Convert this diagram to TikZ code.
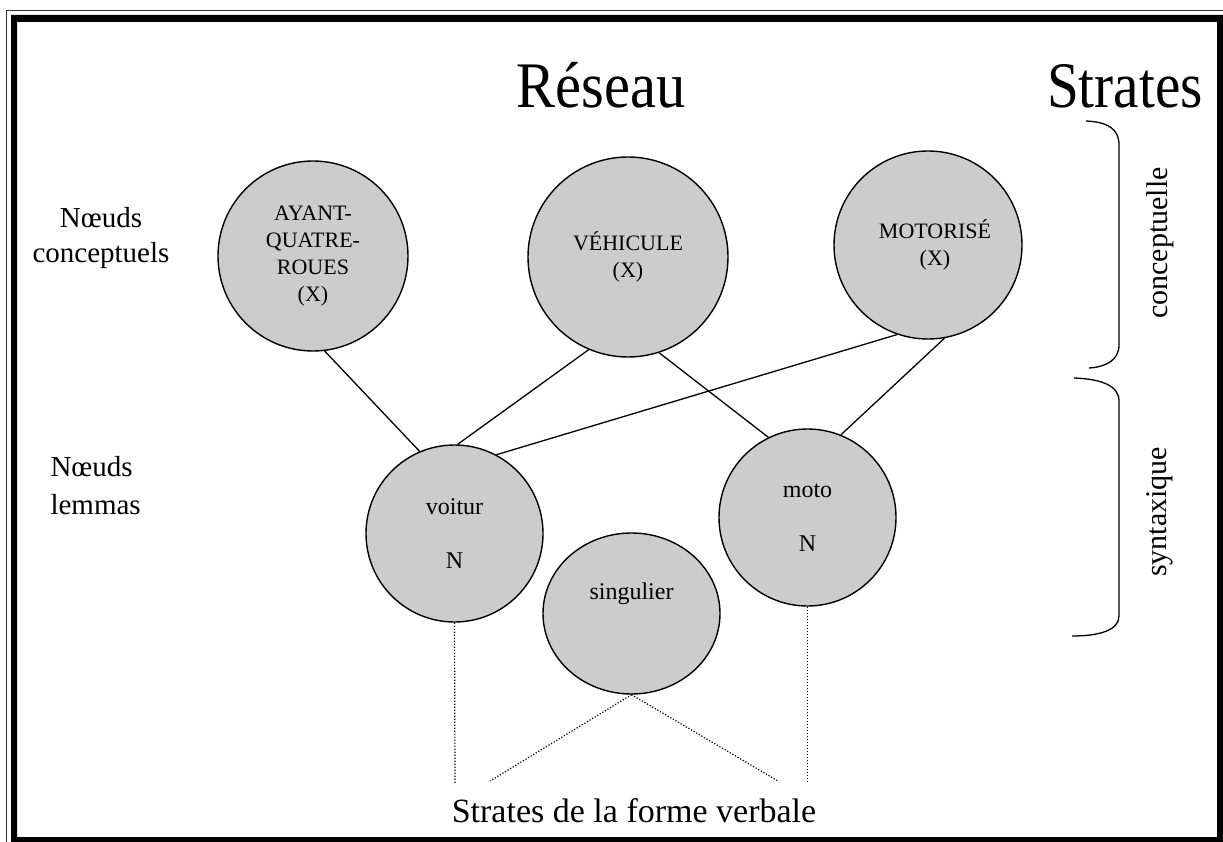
\documentclass[tikz,border=0pt]{standalone}
\usepackage{fontspec}
\setmainfont{Liberation Serif}
\usetikzlibrary{shapes.geometric}
\definecolor{nodegrey}{RGB}{204,204,204}
\begin{document}
\begin{tikzpicture}[x=1pt,y=-1pt,
  concept/.style={circle, draw, line width=1.4pt, fill=nodegrey, inner sep=0pt, align=center, font=\rmfamily\fontsize{22}{27}\selectfont},
  lemma/.style={circle, draw, line width=1.4pt, fill=nodegrey, inner sep=0pt, align=center, font=\rmfamily\fontsize{24}{54}\selectfont},
  feat/.style={ellipse, draw, line width=1.4pt, fill=nodegrey, inner sep=0pt, align=center, font=\rmfamily\fontsize{24}{30}\selectfont},
  link/.style={line width=1.3pt},
  dots/.style={line width=1.2pt, dash pattern=on 1.2pt off 1.8pt},
  label/.style={font=\fontsize{29}{36}\selectfont},
  stratum/.style={font=\fontsize{30}{36}\selectfont, rotate=90},
  brace/.style={line width=1.3pt}
]
\useasboundingbox (0,0) rectangle (1223,842);
% frame
\draw[line width=1pt, black!80] (6,11) rectangle (1240,860);
\fill[black, even odd rule] (11,15) rectangle (1240,860) (17,22) rectangle (1217,837);

% titles
\node[anchor=base, font=\fontsize{65}{70}\selectfont] (reseau) at (601,108) {\scalebox{0.9}[1]{Réseau}};
\node[anchor=base, font=\fontsize{65}{70}\selectfont] (strates) at (1125,108) {\scalebox{0.88}[1]{Strates}};

% left labels
\node[label, anchor=base] (nc1) at (101,228) {Nœuds};
\node[label, anchor=base] (nc2) at (101,263) {conceptuels};
\node[label, anchor=base west] (nl1) at (47,476) {Nœuds};
\node[label, anchor=base west] (nl2) at (47,514) {lemmas};

% concept nodes
\node[concept, minimum size=190pt] (ayant) at (313,256) {AYANT-\\QUATRE-\\ROUES\\(X)};
\node[concept, minimum size=200pt] (vehicule) at (628,257) {VÉHICULE\\(X)};
\node[concept, minimum size=188pt] (motorise) at (928,245) {\hspace*{14pt}MOTORISÉ\\\hspace*{14pt}(X)};

% lemma nodes
\node[lemma, minimum size=177pt] (voitur) at (454.5,533.5) {voitur\\N};
\node[lemma, minimum size=177pt] (moto) at (807.5,517.5) {moto\\N};
\node[feat, minimum width=177pt, minimum height=161pt] (singulier) at (631.5,613.5) {singulier\\[14pt]};

% solid links
\draw[link] (ayant.-83) -- (voitur.113);
\draw[link] (vehicule.-113) -- (voitur.88);
\draw[link] (vehicule.-72) -- (moto.116);
\draw[link] (motorise.-109) -- (voitur.62);
\draw[link] (motorise.-80) -- (moto.68);

% dotted links to the word form stratum
\coordinate (f1) at (455,783);
\coordinate (f2) at (490,781);
\coordinate (f3) at (778,781);
\coordinate (f4) at (807.5,783);
\draw[dots] (voitur.south) -- (f1);
\draw[dots] (singulier.south) -- (f2);
\draw[dots] (singulier.south) -- (f3);
\draw[dots] (moto.south) -- (f4);

\node[anchor=base, font=\fontsize{34}{40}\selectfont] (forme) at (634,822) {Strates de la forme verbale};

% strata brackets
\draw[brace] (1086,121) .. controls (1108,122) and (1119,129) .. (1119,145) -- (1119,345) .. controls (1119,360) and (1106,367) .. (1089,368);
\draw[brace] (1074,378) .. controls (1100,379) and (1119,385) .. (1119,401) -- (1119,616) .. controls (1119,630) and (1100,636) .. (1072,636);
\node[stratum] (sconc) at (1160,243) {conceptuelle};
\node[stratum] (ssynt) at (1160,512) {syntaxique};
\end{tikzpicture}
\end{document}
